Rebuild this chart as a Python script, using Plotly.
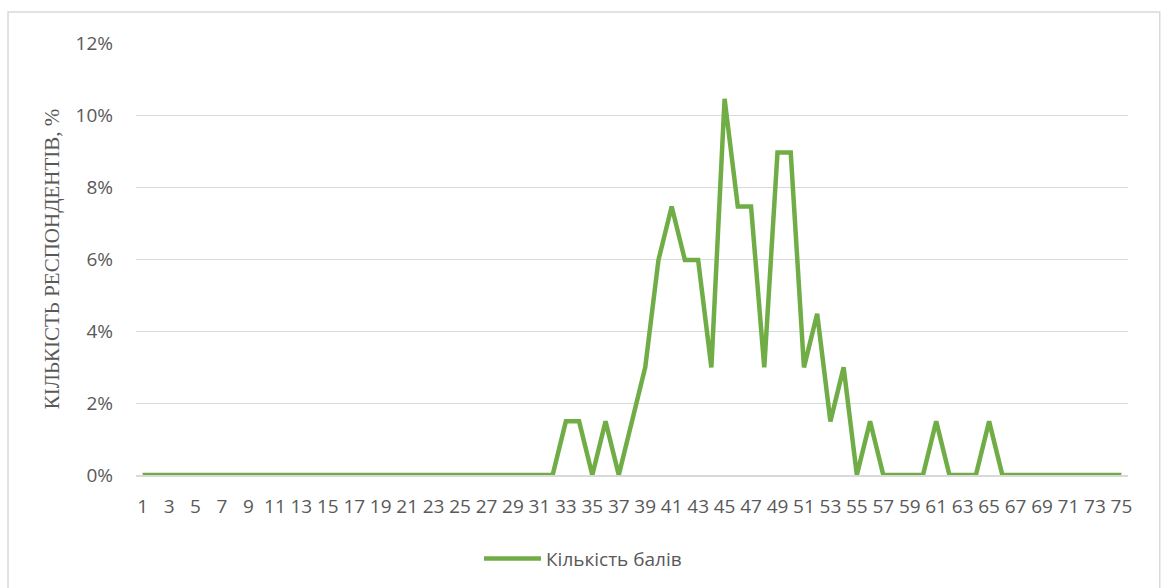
import plotly.graph_objects as go

# score categories 1..75 and share of respondents, %
scores = list(range(1, 76))
share_pct = (
    [0.0] * 32
    + [1.49, 1.49, 0.0, 1.49, 0.0, 1.49, 2.99, 5.97, 7.46, 5.97,
       5.97, 2.99, 10.45, 7.46, 7.46, 2.99, 8.96, 8.96, 2.99, 4.48,
       1.49, 2.99, 0.0, 1.49, 0.0, 0.0, 0.0, 0.0, 1.49, 0.0,
       0.0, 0.0, 1.49]
    + [0.0] * 10
)
x_ticks = list(range(1, 76, 2))
y_ticks = [0, 2, 4, 6, 8, 10, 12]

GREEN = "#70AD47"
GRID = "#D9D9D9"
TEXT = "#595959"

fig = go.Figure()

fig.add_trace(go.Scatter(
    x=scores, y=share_pct,
    mode="lines",
    name="Кількість балів",
    line=dict(color=GREEN, width=4.5),
    hovertemplate="%{x}: %{y:.2f}%<extra></extra>",
))

# outer chart border (Excel chart area frame)
fig.add_shape(
    type="rect", xref="paper", yref="paper",
    x0=-0.129, x1=1.032, y0=-0.3, y1=1.0718,
    line=dict(color=GRID, width=1.5), layer="below",
)

fig.update_layout(
    width=1166, height=588,
    paper_bgcolor="white",
    plot_bgcolor="white",
    margin=dict(l=136, r=38, t=43, b=113, autoexpand=False),
    font=dict(family="Open Sans", size=19, color=TEXT),
    xaxis=dict(
        range=[0.5, 75.5],
        tickmode="array", tickvals=x_ticks,
        ticktext=[str(v) for v in x_ticks],
        tickangle=0,
        showgrid=False, zeroline=False,
        showline=True, linecolor=GRID, linewidth=1.5,
        ticks="", ticklabelstandoff=13,
        tickfont=dict(size=19, color=TEXT),
    ),
    yaxis=dict(
        range=[0, 12],
        tickmode="array", tickvals=y_ticks,
        ticktext=[f"{v}%" for v in y_ticks],
        showgrid=True, gridcolor=GRID, gridwidth=1.3,
        zeroline=False, showline=False,
        ticks="", ticklabelstandoff=22,
        tickfont=dict(size=19, color=TEXT),
        title=dict(
            text="КІЛЬКІСТЬ РЕСПОНДЕНТІВ, %",
            font=dict(family="Liberation Serif", size=21, color=TEXT),
            standoff=10,
        ),
    ),
    showlegend=True,
    legend=dict(
        orientation="h",
        xref="container", yref="container",
        x=0.5, xanchor="center",
        y=0.05, yanchor="middle",
        itemwidth=57,
        font=dict(size=19, color=TEXT),
    ),
)

# drop the default body margin so the figure sits at the window origin
fig.write_html(
    "out.html",
    config={"displayModeBar": False},
    post_script="document.body.style.margin='0';",
)
